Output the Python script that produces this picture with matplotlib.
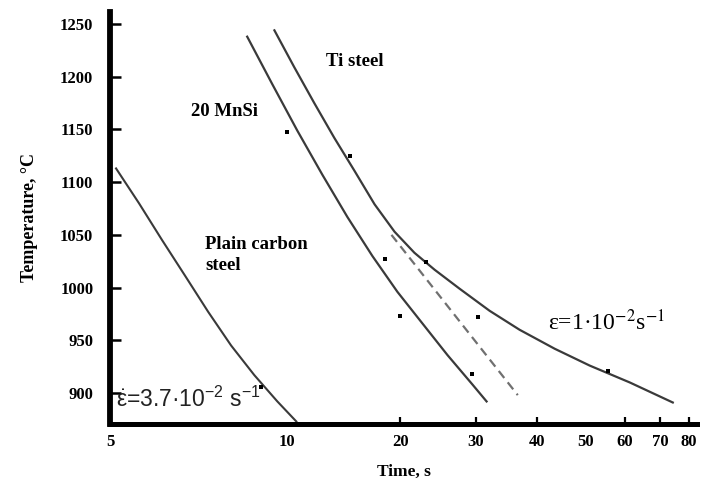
import numpy as np
import matplotlib.pyplot as plt

# hand-drawn time axis: tick value -> pixel column in the source figure
x_anchor_vals = np.array([2.5, 5, 10, 20, 30, 40, 60, 70, 80, 90])
x_anchor_pos = np.array([-66, 111, 288, 401, 476, 537, 625, 660, 689, 715])

# curves (time in s, temperature in C)
plain_t = [5.12, 5.60, 6.13, 6.71, 7.34, 8.03, 8.79, 9.62, 10.57]
plain_T = [1113, 1080, 1045, 1011, 977, 945, 917, 892, 873]

mnsi_t = [8.55, 9.43, 10.63, 12.40, 14.45, 16.84, 19.63, 22.52, 25.78, 29.51, 31.6]
mnsi_T = [1238, 1193, 1149, 1107, 1067, 1030, 996, 966, 936, 908, 892]

ti_t = [9.51, 10.44, 11.80, 13.34, 15.08, 17.07, 19.29, 21.57, 24.04, 27.51,
        32.05, 36.91, 43.46, 51.07, 61.34, 74.3]
ti_T = [1244, 1209, 1175, 1142, 1111, 1079, 1053, 1033, 1017, 999,
        978, 960, 942, 926, 910, 891]

dash_t = [18.93, 36.6]
dash_T = [1050, 898]

dots_t = [10, 14.72, 18.24, 22.9, 20, 30.3, 29.5, 55.5, 9.04]
dots_T = [1148, 1125, 1027, 1024, 973, 972, 918, 921, 906]

xticks = [5, 10, 20, 30, 40, 50, 60, 70, 80]
yticks = [900, 950, 1000, 1050, 1100, 1150, 1200, 1250]


def fwd(t):
    t = np.clip(np.asarray(t, dtype=float), 1e-3, None)
    return np.interp(np.log(t), np.log(x_anchor_vals), x_anchor_pos)


def inv(p):
    return np.exp(np.interp(np.asarray(p, dtype=float), x_anchor_pos, np.log(x_anchor_vals)))


serif = ['Liberation Serif', 'DejaVu Serif']
sans = ['Liberation Sans', 'DejaVu Sans']
plt.rcParams['mathtext.fontset'] = 'custom'
plt.rcParams['mathtext.rm'] = 'Liberation Sans'
plt.rcParams['mathtext.it'] = 'Liberation Sans'

fig = plt.figure(figsize=(7.01, 4.91), dpi=100)
ax = fig.add_axes([110 / 701, 67 / 491, 587 / 701, 412 / 491])
ax.set_xscale('function', functions=(fwd, inv))

line_col = '#3a3a3a'
ax.plot(plain_t, plain_T, color=line_col, lw=1.5)
ax.plot(mnsi_t, mnsi_T, color=line_col, lw=1.6)
ax.plot(ti_t, ti_T, color=line_col, lw=1.6)
ax.plot(dash_t, dash_T, color='#707070', lw=1.6, ls=(0, (4, 2.5)))
ax.plot(dots_t, dots_T, 's', color='black', ms=2.2, mew=0)

ax.set_xlim(5, 83)
ax.set_ylim(870.6, 1261.4)

ax.set_xticks(xticks)
ax.set_xticklabels([str(v) for v in xticks])
ax.set_yticks(yticks)
ax.minorticks_off()

for s in ['top', 'right']:
    ax.spines[s].set_visible(False)
ax.spines['left'].set_linewidth(4.2)
ax.spines['bottom'].set_linewidth(3.6)

ax.tick_params(axis='y', direction='in', length=8, width=1.8, pad=12)
ax.tick_params(axis='x', direction='in', length=5, width=1.6, pad=7)
for i, tk in enumerate(ax.xaxis.get_major_ticks()):
    if xticks[i] in (5, 10, 50):
        tk.tick1line.set_visible(False)
for lab in ax.get_xticklabels() + ax.get_yticklabels():
    lab.set_fontfamily(serif)
    lab.set_fontweight('bold')
    lab.set_fontsize(12)

ax.set_xlabel('Time, s', fontfamily=serif, fontweight='bold', fontsize=12.5, labelpad=10)
ax.set_ylabel('Temperature, °C', fontfamily=serif, fontweight='bold', fontsize=13, labelpad=16)

txt = dict(fontfamily=serif, fontweight='bold', fontsize=13.5)
ax.text(15.08, 1214, 'Ti steel', ha='center', va='center', **txt)
ax.text(7.82, 1167, '20 MnSi', ha='center', va='center', **txt)
ax.text(7.25, 1031, 'Plain carbon\nsteel', ha='left', va='center', linespacing=1.35, **txt)

ax.text(42.1, 967, r'ε=1·10$^{-2}$s$^{-1}$', ha='left', va='center',
        fontfamily=serif, fontsize=17, math_fontfamily='stix')

# strain rate label, dotted epsilon
ax.text(5.12, 886.7, r'$\dot{\mathrm{\varepsilon}}$=3.7·10$^{-2}$ s$^{-1}$', ha='left', va='baseline',
        fontfamily=sans, fontsize=16.5, color='#222222', math_fontfamily='custom')

fig.savefig('out.png', dpi=100)
